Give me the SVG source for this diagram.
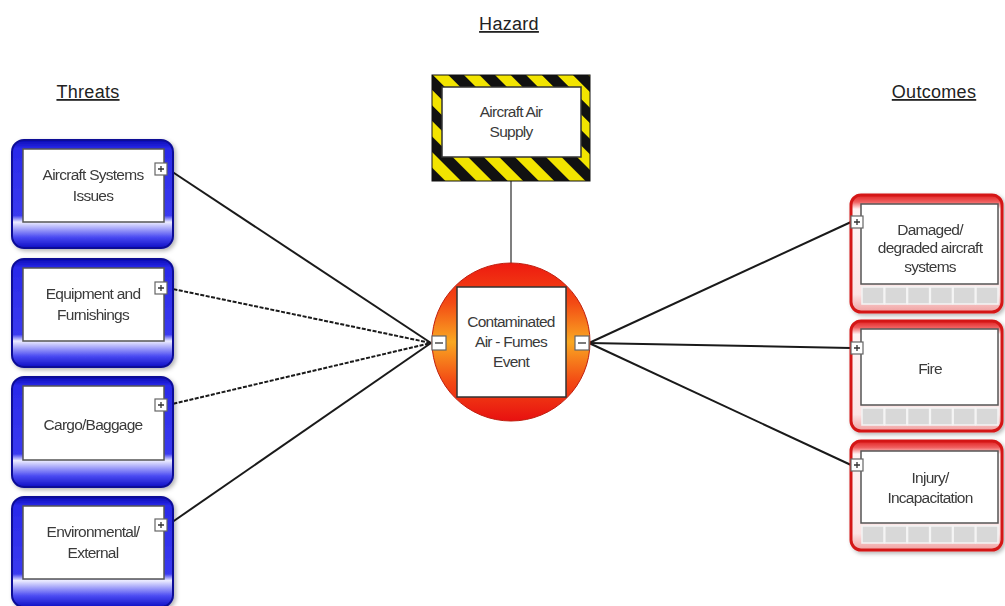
<svg xmlns="http://www.w3.org/2000/svg" width="1005" height="606" viewBox="0 0 1005 606">
<style>
.lbl{font-family:"Liberation Sans",Arial,sans-serif;font-size:15.5px;fill:#3a3a3a;text-anchor:middle;letter-spacing:-0.75px}
.hdr{font-family:"Liberation Sans",Arial,sans-serif;font-size:18px;fill:#222;text-anchor:middle;text-decoration:underline;letter-spacing:0.3px}
.blueOuter{fill:url(#blueG);stroke:#0a0a96;stroke-width:2}
.redOuter{fill:url(#redG);stroke:#d41818;stroke-width:3}
.inner{fill:#fff;stroke:#555;stroke-width:1.5}
.cell{fill:#d8d8d8;stroke:#f4f4f4;stroke-width:1.5}
.icon{fill:#fff;stroke:#666;stroke-width:1.2}
.sign{stroke:#333;stroke-width:1.3}
.conn{fill:none;stroke:#1a1a1a;stroke-width:2}
.dash{stroke-dasharray:4 1.5}
</style>
<defs>
<linearGradient id="blueG" x1="0" y1="0" x2="0" y2="1">
<stop offset="0" stop-color="#0c0cb4"/>
<stop offset="0.08" stop-color="#2a2aea"/>
<stop offset="0.7" stop-color="#3a3af0"/>
<stop offset="0.76" stop-color="#ececff"/>
<stop offset="0.9" stop-color="#4a4af2"/>
<stop offset="1" stop-color="#1010c4"/>
</linearGradient>
<linearGradient id="redG" x1="0" y1="0" x2="0" y2="1">
<stop offset="0" stop-color="#e02020"/>
<stop offset="0.06" stop-color="#f06060"/>
<stop offset="0.12" stop-color="#fff4f4"/>
<stop offset="0.85" stop-color="#fbe4e4"/>
<stop offset="1" stop-color="#f0a0a0"/>
</linearGradient>
<linearGradient id="circG" x1="0" y1="0" x2="0" y2="1">
<stop offset="0" stop-color="#ee1a10"/>
<stop offset="0.25" stop-color="#f34a14"/>
<stop offset="0.5" stop-color="#f9a822"/>
<stop offset="0.75" stop-color="#f34a14"/>
<stop offset="1" stop-color="#e81010"/>
</linearGradient>
<pattern id="stripes" width="22" height="22" patternUnits="userSpaceOnUse" patternTransform="rotate(-45)">
<rect width="22" height="22" fill="#f2e400"/>
<rect width="11" height="22" fill="#111"/>
</pattern>
<filter id="sh" x="-10%" y="-10%" width="125%" height="125%">
<feDropShadow dx="2" dy="2" stdDeviation="2" flood-color="#000" flood-opacity="0.3"/>
</filter>
</defs>

<text class="hdr" x="509" y="30">Hazard</text>
<text class="hdr" x="88" y="98">Threats</text>
<text class="hdr" x="934" y="98">Outcomes</text>

<g id="connectors">
<line class="conn" x1="511" y1="181" x2="511" y2="264" style="stroke:#555;stroke-width:1.5"/>
<line class="conn" x1="168" y1="169" x2="431" y2="343"/>
<line class="conn dash" x1="168" y1="288" x2="431" y2="343"/>
<line class="conn dash" x1="168" y1="405" x2="431" y2="343"/>
<line class="conn" x1="168" y1="525" x2="431" y2="343"/>
<line class="conn" x1="589" y1="343" x2="851" y2="222"/>
<line class="conn" x1="589" y1="343" x2="851" y2="348"/>
<line class="conn" x1="589" y1="343" x2="851" y2="465"/>
</g>

<g id="hazard">
<rect x="432" y="75" width="158" height="106" fill="url(#stripes)" stroke="#111" stroke-width="1"/>
<rect x="442" y="87" width="139" height="70" class="inner" style="stroke:#333"/>
<text class="lbl"><tspan x="511" y="117">Aircraft Air</tspan><tspan x="511" y="137">Supply</tspan></text>
</g>

<g id="top-event">
<circle cx="511" cy="342" r="79" fill="url(#circG)" stroke="#c02010" stroke-width="1"/>
<rect x="457" y="287" width="109" height="110" class="inner" style="stroke:#333"/>
<text class="lbl"><tspan x="511" y="327">Contaminated</tspan><tspan x="511" y="347">Air - Fumes</tspan><tspan x="511" y="367">Event</tspan></text>
<rect class="icon" x="432" y="336" width="14" height="14"/>
<line class="sign" x1="435" y1="343" x2="443" y2="343"/>
<rect class="icon" x="575" y="336" width="14" height="14"/>
<line class="sign" x1="578" y1="343" x2="586" y2="343"/>
</g>

<g id="threat1" filter="url(#sh)">
<rect class="blueOuter" x="12" y="140" width="161" height="108" rx="12"/>
<rect class="inner" x="23" y="149" width="141" height="73"/>
<text class="lbl"><tspan x="93" y="180">Aircraft Systems</tspan><tspan x="93" y="201">Issues</tspan></text>
<rect class="icon" x="155" y="163" width="12" height="12"/>
<path class="sign" d="M158 169h6M161 166v6"/>
</g>

<g id="threat2" filter="url(#sh)">
<rect class="blueOuter" x="12" y="259" width="161" height="108" rx="12"/>
<rect class="inner" x="23" y="268" width="141" height="73"/>
<text class="lbl"><tspan x="93" y="299">Equipment and</tspan><tspan x="93" y="320">Furnishings</tspan></text>
<rect class="icon" x="155" y="282" width="12" height="12"/>
<path class="sign" d="M158 288h6M161 285v6"/>
</g>

<g id="threat3" filter="url(#sh)">
<rect class="blueOuter" x="12" y="377" width="161" height="110" rx="12"/>
<rect class="inner" x="23" y="386" width="141" height="74"/>
<text class="lbl" x="93" y="430">Cargo/Baggage</text>
<rect class="icon" x="155" y="399" width="12" height="12"/>
<path class="sign" d="M158 405h6M161 402v6"/>
</g>

<g id="threat4" filter="url(#sh)">
<rect class="blueOuter" x="12" y="497" width="161" height="110" rx="12"/>
<rect class="inner" x="23" y="506" width="141" height="73"/>
<text class="lbl"><tspan x="93" y="537">Environmental/</tspan><tspan x="93" y="558">External</tspan></text>
<rect class="icon" x="155" y="519" width="12" height="12"/>
<path class="sign" d="M158 525h6M161 522v6"/>
</g>

<g id="outcome1" filter="url(#sh)">
<rect class="redOuter" x="851" y="195" width="151" height="117" rx="10"/>
<rect class="inner" x="861" y="204" width="137" height="80"/>
<g class="cell">
<rect x="862" y="287" width="22" height="17"/><rect x="884.8" y="287" width="22" height="17"/><rect x="907.6" y="287" width="22" height="17"/><rect x="930.4" y="287" width="22" height="17"/><rect x="953.2" y="287" width="22" height="17"/><rect x="976" y="287" width="22" height="17"/>
</g>
<text class="lbl"><tspan x="930" y="235">Damaged/</tspan><tspan x="930" y="253">degraded aircraft</tspan><tspan x="930" y="272">systems</tspan></text>
<rect class="icon" x="851" y="216" width="12" height="12"/>
<path class="sign" d="M854 222h6M857 219v6"/>
</g>

<g id="outcome2" filter="url(#sh)">
<rect class="redOuter" x="851" y="321" width="151" height="110" rx="10"/>
<rect class="inner" x="861" y="329" width="137" height="76"/>
<g class="cell">
<rect x="862" y="408" width="22" height="17"/><rect x="884.8" y="408" width="22" height="17"/><rect x="907.6" y="408" width="22" height="17"/><rect x="930.4" y="408" width="22" height="17"/><rect x="953.2" y="408" width="22" height="17"/><rect x="976" y="408" width="22" height="17"/>
</g>
<text class="lbl" x="930" y="374">Fire</text>
<rect class="icon" x="851" y="342" width="12" height="12"/>
<path class="sign" d="M854 348h6M857 345v6"/>
</g>

<g id="outcome3" filter="url(#sh)">
<rect class="redOuter" x="851" y="441" width="151" height="109" rx="10"/>
<rect class="inner" x="861" y="451" width="137" height="72"/>
<g class="cell">
<rect x="862" y="526" width="22" height="17"/><rect x="884.8" y="526" width="22" height="17"/><rect x="907.6" y="526" width="22" height="17"/><rect x="930.4" y="526" width="22" height="17"/><rect x="953.2" y="526" width="22" height="17"/><rect x="976" y="526" width="22" height="17"/>
</g>
<text class="lbl"><tspan x="930" y="483">Injury/</tspan><tspan x="930" y="503">Incapacitation</tspan></text>
<rect class="icon" x="851" y="459" width="12" height="12"/>
<path class="sign" d="M854 465h6M857 462v6"/>
</g>
</svg>
